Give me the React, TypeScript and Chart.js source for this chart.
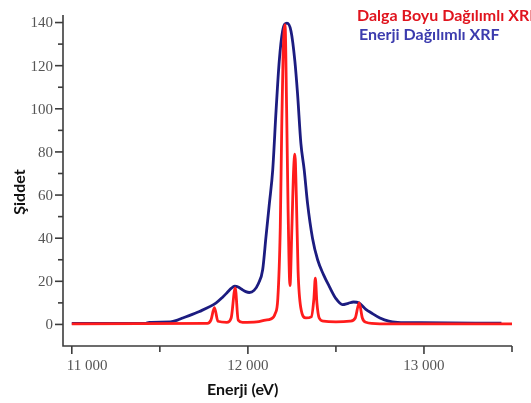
import React, { useEffect, useRef } from "react";
import { Chart, registerables } from "chart.js";

Chart.register(...registerables);

// Wavelength dispersive XRF (red)
const energyWD = [11000, 11770, 11790, 11810, 11830, 11880, 11905, 11928, 11945, 11970, 12050, 12100, 12130, 12155, 12170, 12184, 12192, 12200, 12211, 12220, 12228, 12239, 12250, 12260, 12267, 12275, 12285, 12300, 12330, 12360, 12375, 12383, 12392, 12405, 12430, 12500, 12580, 12610, 12632, 12650, 12670, 12750, 13500];
const intensityWD = [0.3, 0.5, 2, 7.8, 1.5, 1, 3, 17, 2, 1, 1.2, 2, 2.5, 5, 12, 45, 90, 125, 139, 100, 55, 18, 45, 72, 79, 60, 25, 8, 3, 3.5, 12, 21.5, 10, 3, 1.5, 1.2, 1.5, 3, 10, 3, 1, 0.3, 0.3];

// Energy dispersive XRF (blue)
const energyED = [11000, 11420, 11440, 11560, 11600, 11630, 11725, 11820, 11855, 11885, 11905, 11925, 11945, 11965, 11988, 12008, 12035, 12060, 12084, 12103, 12122, 12141, 12160, 12178, 12197, 12222, 12245, 12267, 12282, 12301, 12320, 12339, 12367, 12396, 12430, 12462, 12500, 12537, 12570, 12600, 12630, 12670, 12700, 12750, 12800, 12850, 12980, 13440];
const intensityED = [0.5, 0.5, 1, 1.2, 2, 3, 6, 10, 12.5, 15, 16.7, 17.7, 17.4, 16.3, 15.2, 14.8, 15.8, 19, 25.4, 40.8, 56, 71.6, 99, 122, 136, 139.7, 136, 122, 107, 84, 71.6, 56, 40, 30, 23, 17.7, 12, 9.2, 9.8, 10.4, 10, 7, 5.4, 3, 1.5, 1, 0.8, 0.6];

const yMajorTicks = [0, 20, 40, 60, 80, 100, 120, 140];
const yMinorTicks = [10, 30, 50, 70, 90, 110, 130];
const xMajorTicks = [11000, 12000, 13000];
const xMinorTicks = [11500, 12500, 13500];
const xTickLabels = ["11 000", "12 000", "13 000"];

const seriesLabels = ["Dalga Boyu Dağılımlı XRF", "Enerji Dağılımlı XRF"];
const xTitle = "Enerji (eV)";
const yTitle = "Şiddet";

const axesPlugin = {
  id: "customAxes",
  afterDraw(chart: any) {
    const ctx = chart.ctx;
    const xs = chart.scales.x;
    const ys = chart.scales.y;
    const { left, right, top, bottom } = chart.chartArea;
    ctx.save();
    ctx.strokeStyle = "#3c3c3c";
    ctx.lineWidth = 1.6;
    ctx.beginPath();
    ctx.moveTo(left, top);
    ctx.lineTo(left, bottom);
    ctx.lineTo(right, bottom);
    ctx.stroke();

    ctx.fillStyle = "#555555";
    ctx.font = "15px 'Liberation Serif'";
    ctx.textAlign = "right";
    ctx.textBaseline = "middle";
    yMajorTicks.forEach((v) => {
      const py = ys.getPixelForValue(v);
      ctx.beginPath();
      ctx.moveTo(left - 8, py);
      ctx.lineTo(left, py);
      ctx.stroke();
      ctx.fillText(String(v), left - 10, py + 1);
    });
    yMinorTicks.forEach((v) => {
      const py = ys.getPixelForValue(v);
      ctx.beginPath();
      ctx.moveTo(left - 5, py);
      ctx.lineTo(left, py);
      ctx.stroke();
    });
    xMajorTicks.forEach((v, i) => {
      const px = xs.getPixelForValue(v);
      ctx.beginPath();
      ctx.moveTo(px, bottom);
      ctx.lineTo(px, bottom + 8);
      ctx.stroke();
      ctx.textAlign = i === 0 ? "left" : "center";
      ctx.fillText(xTickLabels[i], i === 0 ? px - 5 : px, bottom + 20);
    });
    xMinorTicks.forEach((v) => {
      const px = xs.getPixelForValue(v);
      ctx.beginPath();
      ctx.moveTo(px, bottom);
      ctx.lineTo(px, bottom + 6);
      ctx.stroke();
    });

    // axis titles
    ctx.fillStyle = "#111111";
    ctx.font = "bold 16px Lato";
    ctx.textAlign = "center";
    ctx.textBaseline = "alphabetic";
    ctx.fillText(xTitle, xs.getPixelForValue(11970), bottom + 49);
    ctx.save();
    ctx.translate(25, 192);
    ctx.rotate(-Math.PI / 2);
    ctx.fillText(yTitle, 0, 0);
    ctx.restore();

    // legend text
    ctx.textAlign = "left";
    ctx.font = "bold 16px Lato";
    ctx.fillStyle = "#e0141e";
    ctx.fillText(seriesLabels[0], 357, 21);
    ctx.fillStyle = "#3c3cae";
    ctx.fillText(seriesLabels[1], 359, 40);
    ctx.restore();
  },
};

export default function App() {
  const ref = useRef<HTMLCanvasElement | null>(null);
  useEffect(() => {
    if (!ref.current) return;
    const chart = new Chart(ref.current, {
      type: "line",
      data: {
        datasets: [
          {
            label: seriesLabels[0],
            data: energyWD.map((x, i) => ({ x, y: intensityWD[i] })),
            borderColor: "#ff1c1c",
            borderWidth: 2.8,
            pointRadius: 0,
            cubicInterpolationMode: "monotone",
            fill: false,
          },
          {
            label: seriesLabels[1],
            data: energyED.map((x, i) => ({ x, y: intensityED[i] })),
            borderColor: "#1c1c80",
            borderWidth: 2.8,
            pointRadius: 0,
            cubicInterpolationMode: "monotone",
            fill: false,
          },
        ],
      },
      options: {
        animation: false,
        responsive: false,
        layout: { padding: { left: 63, right: 19, top: 15, bottom: 57 } },
        plugins: { legend: { display: false }, tooltip: { enabled: false } },
        scales: {
          x: { type: "linear", min: 10950, max: 13500, display: false },
          y: { type: "linear", min: -10, max: 143.5, display: false },
        },
      },
      plugins: [axesPlugin],
    });
    return () => chart.destroy();
  }, []);
  return (
    <div style={{ position: "fixed", left: 0, top: 0, width: 531, height: 403, background: "#fff" }}>
      <canvas ref={ref} width={531} height={403} style={{ width: 531, height: 403 }} />
    </div>
  );
}
